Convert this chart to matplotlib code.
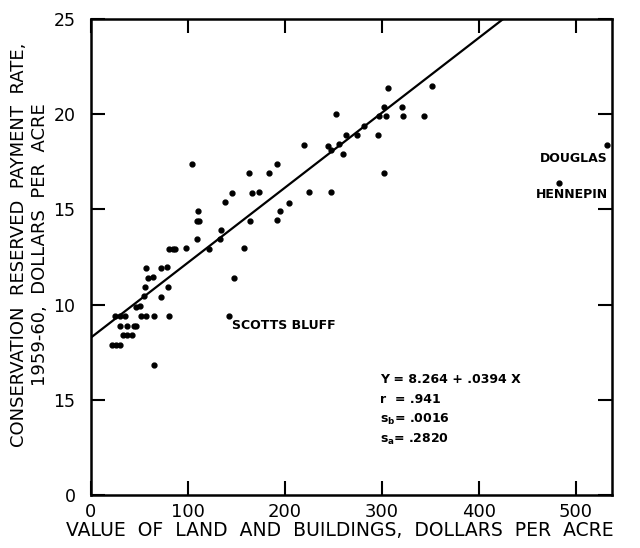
import numpy as np
import matplotlib
matplotlib.use("Agg")
import matplotlib.pyplot as plt

# valores (valor de la tierra vs. pago de reserva)
valor_tierra = [22, 26, 30, 25, 30, 35, 30, 37, 33, 37, 42, 44, 47, 47, 51,
                52, 57, 65, 55, 56, 59, 64, 57, 72, 78, 79, 72, 81, 65,
                81, 85, 87, 98, 109, 109, 111, 110, 122, 133, 134, 138, 145,
                148, 142, 158, 164, 166, 173, 192, 195, 204, 104, 163, 184,
                192, 220, 225, 248, 244, 248, 256, 260, 253, 263, 274, 282,
                296, 297, 304, 302, 306, 302, 321, 322, 343, 352, 483, 532]
pago = [7.9, 7.9, 7.9, 9.4, 9.4, 9.4, 8.85, 8.9, 8.4, 8.4, 8.4, 8.9, 8.9,
        9.85, 9.95, 9.4, 9.4, 9.4, 10.45, 10.9, 11.4, 11.45, 11.9, 11.9,
        11.95, 10.9, 10.4, 9.4, 6.85, 12.9, 12.9, 12.9, 12.95, 13.45, 14.4,
        14.4, 14.9, 12.9, 13.45, 13.9, 15.4, 15.85, 11.4, 9.4, 12.95, 14.4,
        15.85, 15.9, 14.45, 14.9, 15.35, 17.4, 16.9, 16.9, 17.4, 18.4, 15.9,
        15.9, 18.35, 18.1, 18.45, 17.9, 20.0, 18.9, 18.9, 19.4, 18.9, 19.9,
        19.9, 20.4, 21.4, 16.9, 20.4, 19.9, 19.9, 21.5, 16.4, 18.4]

# recta de regresion publicada
INTERCEPTO = 8.264
PENDIENTE = 0.0394

xticks = [0, 100, 200, 300, 400, 500]
yticks = [0, 5, 10, 15, 20, 25]
ytick_labels = ["0", "15", "10", "15", "20", "25"]

fig = plt.figure(figsize=(6.4, 5.48), dpi=100)
ax = fig.add_axes([0.142, 0.097, 0.814, 0.868])

ax.plot(valor_tierra, pago, "o", color="black", markersize=3.5)

x_fin = (25 - INTERCEPTO) / PENDIENTE
xr = np.array([0, x_fin])
ax.plot(xr, INTERCEPTO + PENDIENTE * xr, color="black", linewidth=1.6)

ax.set_xlim(0, 537)
ax.set_ylim(0, 25)
ax.set_xticks(xticks)
ax.set_yticks(yticks)
ax.set_yticklabels(ytick_labels)
ax.tick_params(direction="in", length=10, width=1.5, top=True, right=True,
               labelsize=13, pad=6)
ax.tick_params(axis="y", pad=11, labelsize=12.5)
for s in ax.spines.values():
    s.set_linewidth(1.8)

# etiquetas de los condados
ax.text(145, 8.9, "SCOTTS BLUFF", fontsize=9, fontweight="bold", va="center")
ax.text(533, 17.7, "DOUGLAS", fontsize=9, fontweight="bold", va="center", ha="right")
ax.text(533, 15.8, "HENNEPIN", fontsize=9, fontweight="bold", va="center", ha="right")

# resumen estadistico
ax.text(298, 6.07, "Y = 8.264 + .0394 X", fontsize=9, fontweight="bold", va="center")
ax.text(298, 5.02, "r  = .941", fontsize=9, fontweight="bold", va="center")
ax.text(298, 3.97, r"s$_{\mathbf{b}}$= .0016", fontsize=9, fontweight="bold", va="center")
ax.text(298, 2.93, r"s$_{\mathbf{a}}$= .2820", fontsize=9, fontweight="bold", va="center")

ax.set_xlabel("VALUE  OF  LAND  AND  BUILDINGS,  DOLLARS  PER  ACRE", fontsize=13.5)
ax.set_ylabel("CONSERVATION  RESERVED  PAYMENT  RATE,\n1959-60,  DOLLARS  PER  ACRE",
              fontsize=13, linespacing=1.2)
ax.xaxis.set_label_coords(0.478, -0.055)
ax.yaxis.set_label_coords(-0.08, 0.525)

fig.savefig("out.png", dpi=100)
